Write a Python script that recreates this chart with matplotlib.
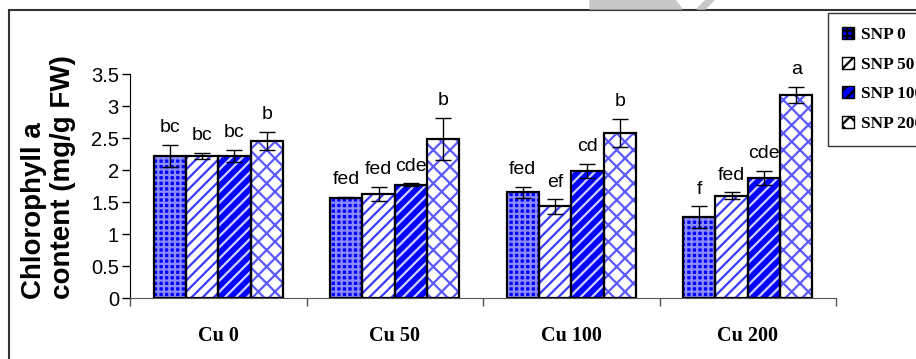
import matplotlib.pyplot as plt
import matplotlib.patches as mpatches
import numpy as np

# data
groups = ["Cu 0", "Cu 50", "Cu 100", "Cu 200"]
series = ["SNP 0", "SNP 50", "SNP 100", "SNP 200"]
snp0 = [2.22, 1.57, 1.65, 1.26]
snp50 = [2.22, 1.63, 1.43, 1.60]
snp100 = [2.22, 1.77, 1.99, 1.88]
snp200 = [2.46, 2.49, 2.58, 3.17]
err0 = [0.17, 0.01, 0.09, 0.17]
err50 = [0.05, 0.11, 0.11, 0.05]
err100 = [0.10, 0.02, 0.11, 0.11]
err200 = [0.14, 0.33, 0.22, 0.13]
letters0 = ["bc", "fed", "fed", "f"]
letters50 = ["bc", "fed", "ef", "fed"]
letters100 = ["bc", "cde", "cd", "cde"]
letters200 = ["b", "b", "b", "a"]

values = [snp0, snp50, snp100, snp200]
errors = [err0, err50, err100, err200]
letters = [letters0, letters50, letters100, letters200]

# face, hatch colour, hatch
styles = [
    ("#0000ff", "#8c8cff", "+++"),
    ("white", "#3a3aff", "///"),
    ("#0000ff", "#d0d0ff", "///"),
    ("white", "#5a5aff", "xx"),
]

plt.rcParams["hatch.linewidth"] = 1.6

W, H = 916, 359
fig = plt.figure(figsize=(W / 100, H / 100), dpi=100)
ax = fig.add_axes([130 / W, 1 - 298 / H, (836 - 130) / W, (298 - 74) / H])

x = np.arange(len(groups))
bw = 0.733 / 4
for i, (vals, errs, labs) in enumerate(zip(values, errors, letters)):
    face, hcol, hatch = styles[i]
    pos = x + (i - 1.5) * bw
    ax.bar(pos, vals, bw, color=face, edgecolor=hcol, hatch=hatch, linewidth=0, zorder=2)
    ax.bar(pos, vals, bw, fill=False, edgecolor="black", linewidth=1.6, zorder=3)
    ax.errorbar(pos, vals, yerr=errs, fmt="none", ecolor="black", elinewidth=1,
                capsize=6, capthick=1, zorder=4)
    for p, v, e, t in zip(pos, vals, errs, labs):
        ax.text(p, v + e + 0.2, t, ha="center", va="baseline", fontsize=14,
                family="Liberation Sans")

ax.set_xlim(-0.5, 3.5)
ax.set_ylim(0, 3.5)
ax.set_yticks(np.arange(0, 3.51, 0.5))
ax.set_yticklabels(["0", "0.5", "1", "1.5", "2", "2.5", "3", "3.5"],
                   family="Liberation Sans", fontsize=14.5)
ax.tick_params(axis="y", length=6, width=1, pad=2)
ax.set_xticks(np.arange(-0.5, 3.6, 1))
ax.set_xticklabels([])
ax.set_xticks(x, minor=True)
ax.set_xticklabels(groups, minor=True, family="Liberation Serif",
                   fontweight="bold", fontsize=14.5)
ax.tick_params(axis="x", which="major", length=6, width=1, color="#555555")
ax.tick_params(axis="x", which="minor", length=0, pad=20)
for s in ["top", "right"]:
    ax.spines[s].set_visible(False)
ax.spines["bottom"].set_color("#555555")

fig.text(49 / W, 1 - 299 / H, "Chlorophyll a\ncontent (mg/g FW)", rotation=90,
         ha="center", va="bottom", multialignment="left", linespacing=1.15,
         family="Liberation Sans", fontweight="bold", fontsize=20)

# legend
handles = [mpatches.Patch(facecolor=s[0], edgecolor=s[1], hatch=s[2]) for s in styles]
leg = fig.legend(handles, series, loc="upper left", bbox_to_anchor=(828 / W, 1 - 13 / H),
                 prop={"family": "Liberation Serif", "weight": "bold", "size": 12.5},
                 frameon=True, fancybox=False, edgecolor="#333333", framealpha=1,
                 handlelength=0.7, handleheight=0.7, handletextpad=0.4,
                 labelspacing=0.78, borderpad=0.8, borderaxespad=0)
for h in leg.legend_handles:
    h.set_edgecolor("black")
    h.set_linewidth(1)

# outer frame and watermark piece
fig.patches.append(mpatches.Rectangle((9 / W, -0.1), 1.2, 1 - 10 / H + 0.1,
                                      transform=fig.transFigure, fill=False,
                                      edgecolor="#333333", linewidth=1.5))
fig.patches.append(mpatches.Polygon([(590 / W, 1), (675 / W, 1), (682 / W, 1 - 9 / H),
                                     (590 / W, 1 - 9 / H)], closed=True,
                                    transform=fig.transFigure, color="#c8c8c8"))
fig.patches.append(mpatches.Polygon([(706 / W, 1), (714 / W, 1), (705 / W, 1 - 9 / H),
                                     (697 / W, 1 - 9 / H)], closed=True,
                                    transform=fig.transFigure, color="#c8c8c8"))

fig.savefig("out.png", dpi=100)
